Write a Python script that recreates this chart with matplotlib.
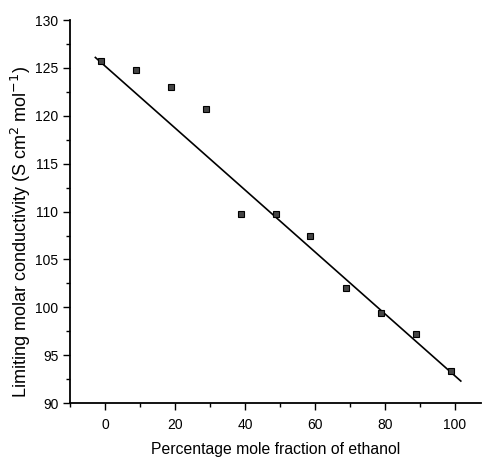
import matplotlib.pyplot as plt
from matplotlib.ticker import MultipleLocator

plt.rcParams['font.family'] = ['Liberation Sans', 'DejaVu Sans']

# 에탄올 몰분율(%)과 극한 몰전도도 값
ethanol = [-1.3, 8.7, 18.7, 28.7, 38.8, 48.8, 58.7, 68.8, 78.9, 88.9, 98.8]
conductivity = [125.7, 124.8, 123.0, 120.7, 109.8, 109.7, 107.4, 102.0, 99.4, 97.25, 93.3]

# 직선(회귀선)의 양 끝점
fit_x = [-2.8, 101.7]
fit_y = [126.1, 92.3]

fig = plt.figure(figsize=(4.84, 4.57), dpi=100)
ax = fig.add_axes([0.145, 0.118, 0.849, 0.838])

ax.plot(fit_x, fit_y, color='black', linewidth=1.2)
ax.plot(ethanol, conductivity, linestyle='none', marker='s', markersize=4,
        markerfacecolor='#444444', markeredgecolor='black', markeredgewidth=0.8)

ax.set_xlim(-10, 107.5)
ax.set_ylim(90, 130)
ax.xaxis.set_major_locator(MultipleLocator(20))
ax.xaxis.set_minor_locator(MultipleLocator(10))
ax.yaxis.set_major_locator(MultipleLocator(5))
ax.yaxis.set_minor_locator(MultipleLocator(2.5))
ax.set_xticks(range(0, 101, 20))

ax.spines['top'].set_visible(False)
ax.spines['right'].set_visible(False)
ax.spines['left'].set_linewidth(1.3)
ax.spines['bottom'].set_linewidth(1.3)
ax.tick_params(which='major', length=5, width=1, labelsize=10)
ax.tick_params(axis='x', which='major', pad=6)
ax.tick_params(which='minor', length=3, width=1)

ax.set_xlabel("Percentage mole fraction of ethanol", fontsize=11.3, labelpad=7)
ax.set_ylabel("Limiting molar conductivity (S cm$^{2}$ mol$^{-1}$)", fontsize=13)
ax.yaxis.set_label_coords(-0.09, 0.446)

fig.savefig("out.png", dpi=100)
